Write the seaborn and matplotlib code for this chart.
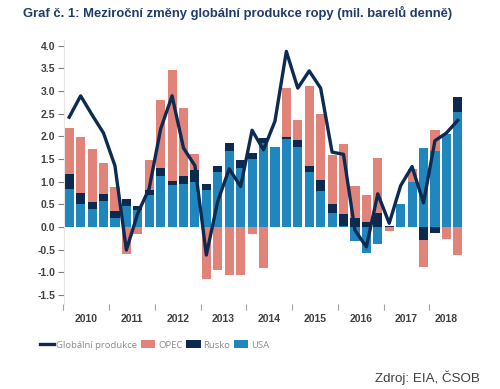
import numpy as np
import pandas as pd
import matplotlib
matplotlib.use('Agg')
import matplotlib.pyplot as plt
import seaborn as sns

# Čtvrtletní data 2010Q1 - 2018Q3 (mil. barelů denně, meziročně)
roky = ['2010', '2011', '2012', '2013', '2014', '2015', '2016', '2017', '2018']
ctvrtleti = [f'{r}Q{q}' for r in roky for q in range(1, 5)][:35]

usa = [0.83, 0.50, 0.39, 0.58, 0.20, 0.47, 0.38, 0.71, 1.12, 0.92, 0.94, 1.00,
       0.82, 1.20, 1.68, 1.31, 1.49, 1.86, 1.77, 1.93, 1.77, 1.22, 0.79, 0.30,
       0.02, -0.30, -0.58, -0.37, 0.00, 0.51, 0.98, 1.74, 1.68, 2.04, 2.54]
rusko = [0.33, 0.25, 0.15, 0.14, 0.15, 0.15, 0.08, 0.11, 0.17, 0.10, 0.19, 0.26,
         0.12, 0.15, 0.18, 0.16, 0.13, 0.11, 0.00, 0.06, 0.14, 0.13, 0.24, 0.20,
         0.26, 0.19, 0.10, 0.30, 0.02, 0.00, 0.00, -0.28, -0.13, 0.00, 0.33]
opec = [1.02, 1.24, 1.17, 0.68, 0.54, -0.60, -0.15, 0.65, 1.50, 2.43, 1.49, 0.34,
        -1.15, -0.96, -1.06, -1.06, -0.16, -0.91, 0.00, 1.07, 0.45, 1.75, 1.47, 1.08,
        1.54, 0.72, 0.61, 1.21, -0.09, 0.00, 0.30, -0.61, 0.45, -0.26, -0.62]
globalni = [2.42, 2.89, 2.47, 2.07, 1.35, -0.51, 0.30, 0.85, 2.16, 2.89, 1.74, 1.35,
            -0.62, 0.57, 1.28, 0.89, 2.13, 1.70, 2.33, 3.87, 3.06, 3.44, 3.06, 1.65,
            1.60, -0.07, -0.44, 0.73, 0.08, 0.91, 1.33, 0.53, 1.90, 2.07, 2.35]

c_usa = '#1f87bd'
c_rusko = '#0c2a50'
c_opec = '#e2837a'
c_line = '#0d2b52'

plt.rcParams['font.family'] = ['Liberation Sans', 'DejaVu Sans']

# skládání kladných a záporných hodnot zvlášť
usa_a = np.array(usa)
rus_a = np.array(rusko)
opec_a = np.array(opec)
pos = np.zeros(35)
neg = np.zeros(35)
bottoms = []
for vals in [usa_a, rus_a, opec_a]:
    b = np.where(vals >= 0, pos, neg)
    bottoms.append(b)
    pos = pos + np.where(vals >= 0, vals, 0)
    neg = neg + np.where(vals < 0, vals, 0)

df = pd.DataFrame({'q': ctvrtleti, 'USA': usa, 'Rusko': rusko, 'OPEC': opec,
                   'glob': globalni})

fig = plt.figure(figsize=(5, 3.89), dpi=100)
ax = fig.add_axes([0.127, 0.2185, 0.8, 0.6785])

for col, color, b in [('USA', c_usa, bottoms[0]), ('Rusko', c_rusko, bottoms[1]),
                      ('OPEC', c_opec, bottoms[2])]:
    sns.barplot(data=df, x='q', y=col, color=color, bottom=b, width=0.8,
                saturation=1, ax=ax, label=col)

sns.lineplot(x=np.arange(35), y=globalni, color=c_line, linewidth=2.4, ax=ax,
             label='Globální produkce')

ax.set_xlim(-0.5, 34.5)
ax.set_ylim(-1.7, 4.12)
ax.set_yticks(np.arange(-1.5, 4.01, 0.5))
ax.set_yticklabels([f'{v:.1f}' for v in np.arange(-1.5, 4.01, 0.5)],
                   fontweight='bold', fontsize=7.5, color='#404040')
ax.tick_params(axis='y', length=4, width=0.8, color='#7f7f7f', pad=2)

centers = [1.5 + 4 * i for i in range(8)] + [33]
ax.set_xticks(centers)
ax.set_xticklabels(roky, fontweight='bold', fontsize=7.5, color='#404040')
ax.tick_params(axis='x', which='major', length=0, pad=7)
ax.set_xticks([-0.5 + 4 * i for i in range(9)], minor=True)
ax.tick_params(axis='x', which='minor', length=4, width=0.8, color='#9f9f9f')
ax.set_xlabel('')
ax.set_ylabel('')

for s in ['top', 'right', 'bottom']:
    ax.spines[s].set_visible(False)
ax.spines['left'].set_color('#e6e6e6')
ax.spines['left'].set_linewidth(0.8)

h, l = ax.get_legend_handles_labels()
order = [l.index('Globální produkce'), l.index('OPEC'), l.index('Rusko'), l.index('USA')]
ax.get_legend().remove()
fig.legend([h[i] for i in order], [l[i] for i in order], loc='center left',
           bbox_to_anchor=(0.062, 0.113), ncol=4, frameon=False,
           prop={'family': 'Open Sans', 'size': 6.8},
           handlelength=1.5, handleheight=0.9, handletextpad=0.3, columnspacing=0.4,
           labelcolor='#8a8a8a')

fig.text(0.046, 0.966, 'Graf č. 1: Meziroční změny globální produkce ropy (mil. barelů denně)',
         fontsize=9.4, fontweight='bold', color='#1f3b6a', va='center')
fig.text(0.96, 0.028, 'Zdroj: EIA, ČSOB', fontsize=9.6, color='#404040',
         ha='right', va='center')

fig.savefig('out.png', dpi=100)
